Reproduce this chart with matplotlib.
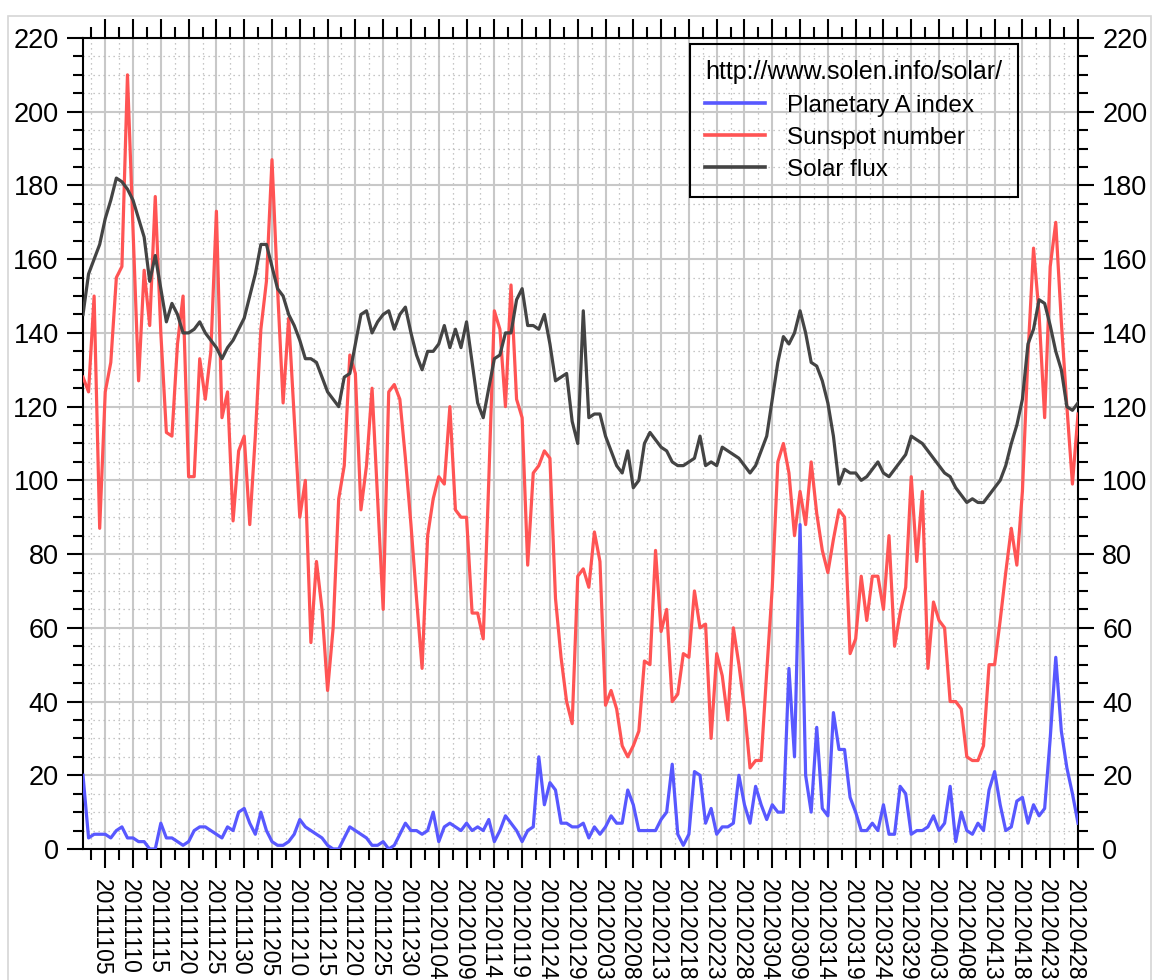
import numpy as np
import pandas as pd
import matplotlib
matplotlib.use('Agg')
import matplotlib.pyplot as plt
from matplotlib.patches import Rectangle
from matplotlib.transforms import ScaledTranslation

# daily values from 2011-11-01 to 2012-04-28
dates = pd.date_range('2011-11-01', periods=180, freq='D')

a_index = [20, 3, 4, 4, 4, 3, 5, 6, 3, 3,
           2, 2, 0, 0, 7, 3, 3, 2, 1, 2,
           5, 6, 6, 5, 4, 3, 6, 5, 10, 11,
           7, 4, 10, 5, 2, 1, 1, 2, 4, 8,
           6, 5, 4, 3, 1, 0, 0, 3, 6, 5,
           4, 3, 1, 1, 2, 0, 1, 4, 7, 5,
           5, 4, 5, 10, 2, 6, 7, 6, 5, 7,
           5, 6, 5, 8, 2, 5, 9, 7, 5, 2,
           5, 6, 25, 12, 18, 16, 7, 7, 6, 6,
           7, 3, 6, 4, 6, 9, 7, 7, 16, 12,
           5, 5, 5, 5, 8, 10, 23, 4, 1, 4,
           21, 20, 7, 11, 4, 6, 6, 7, 20, 12,
           7, 17, 12, 8, 12, 10, 10, 49, 25, 88,
           20, 10, 33, 11, 9, 37, 27, 27, 14, 10,
           5, 5, 7, 5, 12, 4, 4, 17, 15, 4,
           5, 5, 6, 9, 5, 7, 17, 2, 10, 5,
           4, 7, 5, 16, 21, 12, 5, 6, 13, 14,
           7, 12, 9, 11, 30, 52, 32, 22, 15, 7]

sunspot = [128, 124, 150, 87, 124, 132, 155, 158, 210, 168,
           127, 157, 142, 177, 140, 113, 112, 137, 150, 101,
           101, 133, 122, 135, 173, 117, 124, 89, 108, 112,
           88, 112, 141, 154, 187, 152, 121, 144, 117, 90,
           100, 56, 78, 65, 43, 60, 95, 104, 134, 129,
           92, 104, 125, 95, 65, 124, 126, 122, 106, 88,
           68, 49, 85, 95, 101, 99, 120, 92, 90, 90,
           64, 64, 57, 100, 146, 141, 120, 153, 122, 117,
           77, 102, 104, 108, 106, 68, 52, 40, 34, 74,
           76, 71, 86, 78, 39, 43, 38, 28, 25, 28,
           32, 51, 50, 81, 59, 65, 40, 42, 53, 52,
           70, 60, 61, 30, 53, 47, 35, 60, 50, 38,
           22, 24, 24, 48, 71, 105, 110, 102, 85, 97,
           88, 105, 91, 81, 75, 84, 92, 90, 53, 57,
           74, 62, 74, 74, 65, 85, 55, 64, 71, 101,
           78, 97, 49, 67, 62, 60, 40, 40, 38, 25,
           24, 24, 28, 50, 50, 62, 75, 87, 77, 97,
           134, 163, 145, 117, 158, 170, 143, 120, 99, 118]

flux = [145, 156, 160, 164, 171, 176, 182, 181, 179, 176,
        171, 166, 154, 161, 152, 143, 148, 145, 140, 140,
        141, 143, 140, 138, 136, 133, 136, 138, 141, 144,
        150, 156, 164, 164, 158, 152, 150, 145, 142, 138,
        133, 133, 132, 128, 124, 122, 120, 128, 129, 137,
        145, 146, 140, 143, 145, 146, 141, 145, 147, 140,
        134, 130, 135, 135, 137, 142, 136, 141, 136, 143,
        132, 121, 117, 125, 133, 134, 140, 140, 149, 152,
        142, 142, 141, 145, 137, 127, 128, 129, 116, 110,
        146, 117, 118, 118, 112, 108, 104, 102, 108, 98,
        100, 110, 113, 111, 109, 108, 105, 104, 104, 105,
        106, 112, 104, 105, 104, 109, 108, 107, 106, 104,
        102, 104, 108, 112, 122, 132, 139, 137, 140, 146,
        140, 132, 131, 127, 121, 112, 99, 103, 102, 102,
        100, 101, 103, 105, 102, 101, 103, 105, 107, 112,
        111, 110, 108, 106, 104, 102, 101, 98, 96, 94,
        95, 94, 94, 96, 98, 100, 104, 110, 115, 122,
        137, 141, 149, 148, 142, 135, 130, 120, 119, 121]

plt.rcParams['font.family'] = ['Liberation Sans', 'DejaVu Sans']

W, H = 1154, 980
fig = plt.figure(figsize=(W / 100, H / 100), dpi=100)
fig.patch.set_facecolor('white')
ax = fig.add_axes([83 / W, 1 - 849 / H, 995 / W, 811 / H])

# window border of the screenshot
fig.patches.append(Rectangle((8 / W, -0.05), (1151 - 8) / W, 1.05 - 16 / H,
                             transform=fig.transFigure, fill=False,
                             edgecolor='#d6d6d6', lw=1.2))

x = np.arange(len(dates))
ax.plot(x, a_index, color='#5858ff', lw=2.3, label='Planetary A index', zorder=3)
ax.plot(x, sunspot, color='#ff5454', lw=2.3, label='Sunspot number', zorder=3)
ax.plot(x, flux, color='#444444', lw=2.3, label='Solar flux', zorder=3)

ax.set_xlim(0, len(dates) - 1)
ax.set_ylim(0, 220)

major_x = np.arange(4, len(dates), 5)
ax.set_xticks(major_x)
ax.set_xticks(np.arange(1.5, len(dates), 5), minor=True)
ax.set_xticklabels([dates[i].strftime('%Y%m%d') for i in major_x],
                   rotation=270, fontsize=16.5, ha='center', va='top')
ax.set_yticks(np.arange(0, 221, 20))
ax.set_yticks(np.arange(0, 221, 5), minor=True)

ax.grid(which='major', color='#c8c8c8', lw=1.5, ls='-', zorder=0)
ax.grid(which='minor', color='#b4b4b4', lw=0.9, ls=(0, (1, 3)), zorder=0)
ax.set_axisbelow(True)

ax.tick_params(which='both', direction='out', top=True, right=True,
               labelright=True, width=1.5, colors='black')
ax.tick_params(axis='y', which='major', length=11.5, labelsize=19.5, pad=6)
ax.tick_params(axis='y', which='minor', length=7)
ax.tick_params(axis='x', which='major', length=13.5, pad=8)
ax.tick_params(axis='x', which='minor', length=8)

# date labels sit a little left of their ticks
shift = ScaledTranslation(-3.5 / 100, 0, fig.dpi_scale_trans)
for lab in ax.get_xticklabels():
    lab.set_transform(lab.get_transform() + shift)

for s in ax.spines.values():
    s.set_linewidth(1.5)
    s.set_color('black')

leg = ax.legend(title='http://www.solen.info/solar/', loc='upper right',
                bbox_to_anchor=(0.94, 0.992), borderaxespad=0,
                fontsize=17.5, title_fontsize=18, fancybox=False,
                edgecolor='black', facecolor='none', framealpha=1,
                handlelength=2.45, handletextpad=0.9, labelspacing=0.42,
                borderpad=0.65, alignment='left')
leg.get_frame().set_linewidth(1.5)
for ln in leg.get_lines():
    ln.set_linewidth(2.6)

fig.savefig('out.png', dpi=100)
